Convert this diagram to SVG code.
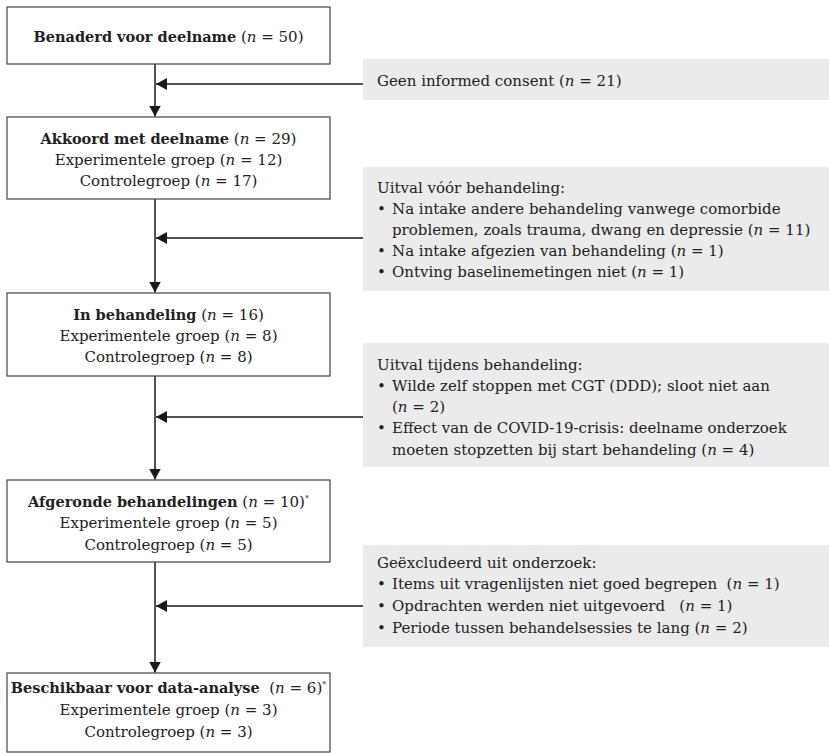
<svg xmlns="http://www.w3.org/2000/svg" width="829" height="753" viewBox="0 0 829 753">
<style>
text{font-family:"DejaVu Serif","Liberation Serif",serif;font-size:15px;fill:#222;white-space:pre}
.c{text-anchor:middle}
.b{font-weight:bold;font-size:14.5px}
.i{font-style:italic}
.sup{font-size:8px}
.box{fill:#fff;stroke:#444;stroke-width:1.2}
.gray{fill:#ebebeb;stroke:none}
.conn{stroke:#1a1a1a;stroke-width:1.5;fill:none;marker-end:url(#ah)}
</style>
<defs>
<marker id="ah" markerUnits="userSpaceOnUse" markerWidth="12" markerHeight="12" refX="11" refY="6" orient="auto" viewBox="0 0 12 12">
<path d="M0,0 L11,6 L0,12 z" fill="#1a1a1a"/>
</marker>
</defs>
<rect width="829" height="753" fill="#fff"/>
<g id="connectors">
<line class="conn" x1="155" y1="64" x2="155" y2="116.5"/>
<line class="conn" x1="155" y1="199" x2="155" y2="292.5"/>
<line class="conn" x1="155" y1="376" x2="155" y2="479.5"/>
<line class="conn" x1="155" y1="562" x2="155" y2="672.5"/>
<line class="conn" x1="363" y1="84" x2="156" y2="84"/>
<line class="conn" x1="363" y1="238" x2="156" y2="238"/>
<line class="conn" x1="363" y1="417" x2="156" y2="417"/>
<line class="conn" x1="363" y1="606" x2="156" y2="606"/>
</g>
<g id="n1">
<rect class="box" x="7" y="7" width="323" height="57"/>
<text class="c" x="168.5" y="42"><tspan class="b">Benaderd voor deelname</tspan> (<tspan class="i">n</tspan> = 50)</text>
</g>
<g id="n2">
<rect class="box" x="7" y="117" width="323" height="82"/>
<text class="c" x="168.5" y="144"><tspan class="b">Akkoord met deelname</tspan> (<tspan class="i">n</tspan> = 29)</text>
<text class="c" x="168.5" y="165">Experimentele groep (<tspan class="i">n</tspan> = 12)</text>
<text class="c" x="168.5" y="186">Controlegroep (<tspan class="i">n</tspan> = 17)</text>
</g>
<g id="n3">
<rect class="box" x="7" y="293" width="323" height="83"/>
<text class="c" x="168.5" y="320"><tspan class="b">In behandeling</tspan> (<tspan class="i">n</tspan> = 16)</text>
<text class="c" x="168.5" y="341">Experimentele groep (<tspan class="i">n</tspan> = 8)</text>
<text class="c" x="168.5" y="362">Controlegroep (<tspan class="i">n</tspan> = 8)</text>
</g>
<g id="n4">
<rect class="box" x="7" y="480" width="323" height="82"/>
<text class="c" x="168.5" y="507"><tspan class="b">Afgeronde behandelingen</tspan> (<tspan class="i">n</tspan> = 10)<tspan class="sup" dy="-6">*</tspan></text>
<text class="c" x="168.5" y="528">Experimentele groep (<tspan class="i">n</tspan> = 5)</text>
<text class="c" x="168.5" y="550">Controlegroep (<tspan class="i">n</tspan> = 5)</text>
</g>
<g id="n5">
<rect class="box" x="7" y="673" width="323" height="79"/>
<text class="c" x="168.5" y="693"><tspan class="b">Beschikbaar voor data-analyse</tspan>  (<tspan class="i">n</tspan> = 6)<tspan class="sup" dy="-6">*</tspan></text>
<text class="c" x="168.5" y="715">Experimentele groep (<tspan class="i">n</tspan> = 3)</text>
<text class="c" x="168.5" y="737">Controlegroep (<tspan class="i">n</tspan> = 3)</text>
</g>
<g id="e1">
<rect class="gray" x="363" y="59" width="466" height="41"/>
<text x="377" y="86">Geen informed consent (<tspan class="i">n</tspan> = 21)</text>
</g>
<g id="e2">
<rect class="gray" x="363" y="167" width="466" height="124"/>
<text x="377" y="193">Uitval vóór behandeling:</text>
<text x="377" y="214">•</text><text x="392" y="214">Na intake andere behandeling vanwege comorbide</text>
<text x="392" y="235">problemen, zoals trauma, dwang en depressie (<tspan class="i">n</tspan> = 11)</text>
<text x="377" y="256">•</text><text x="392" y="256">Na intake afgezien van behandeling (<tspan class="i">n</tspan> = 1)</text>
<text x="377" y="277">•</text><text x="392" y="277">Ontving baselinemetingen niet (<tspan class="i">n</tspan> = 1)</text>
</g>
<g id="e3">
<rect class="gray" x="363" y="343" width="466" height="124"/>
<text x="377" y="370">Uitval tijdens behandeling:</text>
<text x="377" y="391">•</text><text x="392" y="391">Wilde zelf stoppen met CGT (DDD); sloot niet aan</text>
<text x="392" y="412">(<tspan class="i">n</tspan> = 2)</text>
<text x="377" y="433">•</text><text x="392" y="433">Effect van de COVID-19-crisis: deelname onderzoek</text>
<text x="392" y="455">moeten stopzetten bij start behandeling (<tspan class="i">n</tspan> = 4)</text>
</g>
<g id="e4">
<rect class="gray" x="363" y="545" width="466" height="102"/>
<text x="377" y="568">Geëxcludeerd uit onderzoek:</text>
<text x="377" y="589">•</text><text x="392" y="589">Items uit vragenlijsten niet goed begrepen  (<tspan class="i">n</tspan> = 1)</text>
<text x="377" y="611">•</text><text x="392" y="611">Opdrachten werden niet uitgevoerd   (<tspan class="i">n</tspan> = 1)</text>
<text x="377" y="633">•</text><text x="392" y="633">Periode tussen behandelsessies te lang (<tspan class="i">n</tspan> = 2)</text>
</g>
</svg>
